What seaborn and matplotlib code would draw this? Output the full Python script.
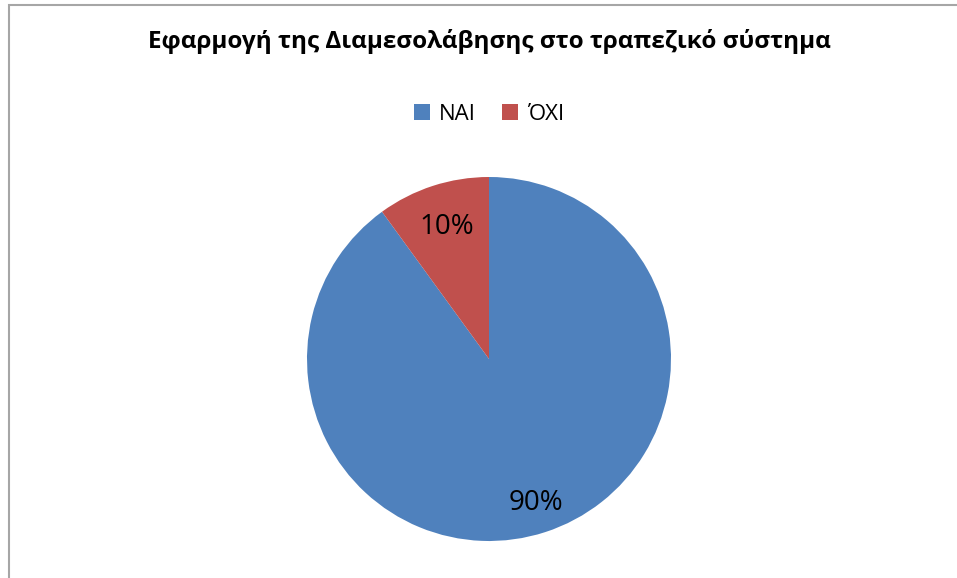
import numpy as np
import matplotlib.pyplot as plt
import seaborn as sns
from matplotlib.patches import Rectangle, Patch

# data
labels = ['ΝΑΙ', 'ΌΧΙ']
values = [90, 10]
colors = ['#4F81BD', '#C0504D']
label_dist = [0.83, 0.76]

sns.set_style('white')
plt.rcParams['font.family'] = ['Open Sans', 'DejaVu Sans']
plt.rcParams['text.color'] = 'black'

W, H = 957, 578
fig = plt.figure(figsize=(W / 100, H / 100), dpi=100)

# chart border (left and top edges visible)
fig.patches.append(Rectangle((9 / W, -0.1), 1.2, 1 - 5 / H + 0.1,
                             transform=fig.transFigure, fill=False,
                             edgecolor='#A6A6A6', linewidth=1.5))

cx, cy, r = 489, H - 359, 182
ax = fig.add_axes([(cx - r) / W, (cy - r) / H, 2 * r / W, 2 * r / H])
wedges, texts, autotexts = ax.pie(values, colors=sns.color_palette(colors),
                                  startangle=90, counterclock=False,
                                  autopct='%1.0f%%', pctdistance=0.76,
                                  wedgeprops={'linewidth': 0},
                                  textprops={'fontsize': 20, 'color': 'black'})
# move percentage labels like the original best-fit placement
for w, t, d in zip(wedges, autotexts, label_dist):
    ang = np.deg2rad((w.theta1 + w.theta2) / 2)
    t.set_position((d * np.cos(ang), d * np.sin(ang)))
ax.set_xlim(-1, 1)
ax.set_ylim(-1, 1)

fig.text(cx / W, 1 - 42 / H, 'Εφαρμογή της Διαμεσολάβησης στο τραπεζικό σύστημα',
         ha='center', va='center', fontsize=17.5, fontweight='bold')

handles = [Patch(facecolor=c, linewidth=0) for c in colors]
fig.legend(handles, labels, loc='center', bbox_to_anchor=(cx / W, 1 - 114 / H),
           ncol=2, frameon=False, fontsize=16, handlelength=0.7, handleheight=0.7,
           handletextpad=0.4, columnspacing=1.2)

fig.savefig('out.png', dpi=100)
